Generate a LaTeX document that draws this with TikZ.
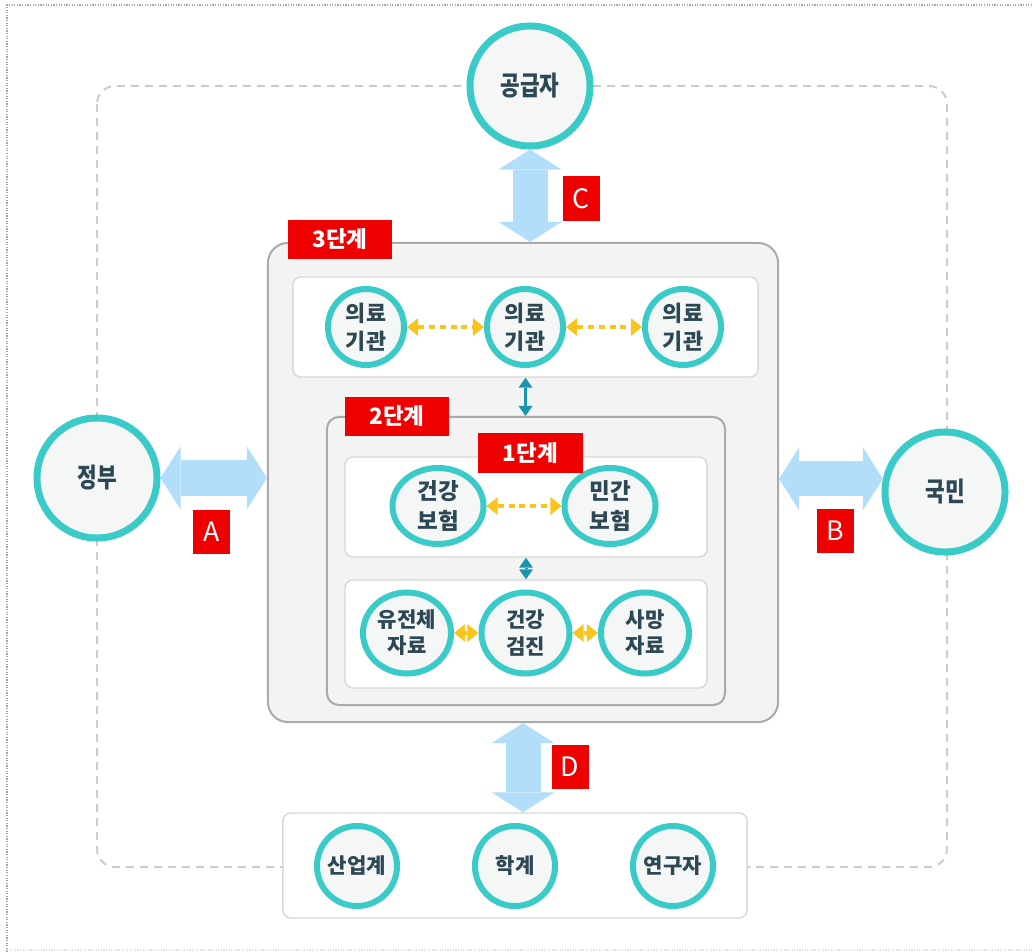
\documentclass[tikz,border=0pt]{standalone}
\usepackage{fontspec}
\setmainfont{Noto Sans CJK KR}
\newfontfamily\tallfont{Noto Sans CJK KR}[FakeStretch=0.8]
\usepackage{tikz}
\usetikzlibrary{arrows.meta,shapes.geometric}
\definecolor{ring}{RGB}{58,202,200}
\definecolor{orbfill}{RGB}{245,246,246}
\definecolor{ink}{RGB}{44,72,84}
\definecolor{tagred}{RGB}{238,0,0}
\definecolor{flowblue}{RGB}{178,222,250}
\definecolor{linkgold}{RGB}{249,196,30}
\definecolor{deepteal}{RGB}{24,150,175}
\definecolor{frame}{RGB}{170,170,170}
\definecolor{panelfill}{RGB}{243,243,243}
\definecolor{cardline}{RGB}{215,215,215}

\begin{document}
\begin{tikzpicture}[x=0.025cm, y=-0.025cm,
  orb/.style={circle, draw=ring, fill=orbfill, line width=0.15cm, inner sep=0pt, text=ink, align=center},
  bigorb/.style={orb, line width=0.175cm, minimum size=3cm, font=\tallfont\bfseries\fontsize{19}{22}\selectfont},
  oval/.style={orb, ellipse},
  panel/.style={draw=frame, fill=panelfill, line width=0.05cm, inner sep=0pt},
  card/.style={draw=cardline, fill=white, line width=0.035cm, rounded corners=0.2cm, inner sep=0pt},
  tag/.style={fill=tagred, text=white, inner sep=0pt, font=\bfseries\fontsize{16}{16}\selectfont},
  letter/.style={tag, minimum width=0.925cm, minimum height=1.1cm, font=\fontsize{19}{19}\selectfont},
  flow/.style={draw=flowblue, line width=0.875cm, >={Triangle[width=1.575cm,length=0.5cm,line width=0pt]}, <->},
  link/.style={draw=linkgold, line width=0.1cm, dash pattern=on 0.15cm off 0.12cm, >={Triangle[width=0.45cm,length=0.28cm,line width=0pt]}, <->},
  hop/.style={draw=deepteal, line width=0.075cm, >={Triangle[width=0.35cm,length=0.25cm,line width=0pt]}, <->}]
\useasboundingbox (0,0) rectangle (1032,952);
\draw[gray!70, line width=0.03cm, densely dotted] (1032,5) -- (7,5) -- (7,952);
\draw[gray!25, line width=0.03cm, densely dotted] (7,950) -- (1032,950);
\draw[gray!40, line width=0.05cm, dash pattern=on 0.2cm off 0.15cm, rounded corners=0.45cm] (97,86) rectangle (947,867);

% stages
\node[panel, rounded corners=0.5cm, minimum width=12.75cm, minimum height=11.975cm] (stage3) at (523,482.5) {};
\node[card, minimum width=11.625cm, minimum height=2.5cm] (row3) at (525.5,327) {};
\node[panel, rounded corners=0.3cm, minimum width=9.95cm, minimum height=7.2cm] (stage2) at (526,561) {};
\node[card, minimum width=9.05cm, minimum height=2.5cm] (row1) at (526,507) {};
\node[card, minimum width=9.05cm, minimum height=2.7cm] (row2) at (526,634) {};
\node[card, minimum width=11.6cm, minimum height=2.625cm] (field) at (515,865.5) {};

\node[bigorb] (supplier) at (530,86) {공급자};
\node[bigorb] (gov) at (97,478) {정부};
\node[bigorb] (people) at (945,492) {국민};

\node[orb, minimum size=1.9cm, font=\bfseries\fontsize{15.5}{20}\selectfont] (hosp1) at (366,327) {의료\\기관};
\node[orb, minimum size=1.9cm, font=\bfseries\fontsize{15.5}{20}\selectfont] (hosp2) at (525,327) {의료\\기관};
\node[orb, minimum size=1.9cm, font=\bfseries\fontsize{15.5}{20}\selectfont] (hosp3) at (683,327) {의료\\기관};
\node[oval, minimum width=2.275cm, minimum height=1.9cm, font=\bfseries\fontsize{16}{22}\selectfont] (insur) at (438,506) {건강\\보험};
\node[oval, minimum width=2.275cm, minimum height=1.9cm, font=\bfseries\fontsize{16}{22}\selectfont] (private) at (610,506) {민간\\보험};
\node[oval, minimum width=2.2cm, minimum height=2.025cm, font=\bfseries\fontsize{15}{18.5}\selectfont] (genome) at (407,633) {유전체\\자료};
\node[oval, minimum width=2.2cm, minimum height=2.025cm, font=\bfseries\fontsize{15}{18.5}\selectfont] (checkup) at (525.5,633) {건강\\검진};
\node[oval, minimum width=2.2cm, minimum height=2.025cm, font=\bfseries\fontsize{15}{18.5}\selectfont] (death) at (645,633) {사망\\자료};
\node[orb, minimum size=2cm, font=\bfseries\fontsize{15}{18}\selectfont] (industry) at (357,866) {산업계};
\node[orb, minimum size=2cm, font=\bfseries\fontsize{15}{18}\selectfont] (academia) at (515,866) {학계};
\node[orb, minimum size=2cm, font=\bfseries\fontsize{15}{18}\selectfont] (research) at (673,866) {연구자};

\node[tag, minimum width=2.6cm, minimum height=0.975cm] (tag3) at (340,239.5) {3단계};
\node[tag, minimum width=2.6cm, minimum height=0.975cm] (tag2) at (397,416.5) {2단계};
\node[tag, minimum width=2.625cm, minimum height=1cm] (tag1) at (530.5,453) {1단계};
\node[letter] (labA) at (211.5,532) {A};
\node[letter] (labB) at (835,531) {B};
\node[letter] (labC) at (581,198.5) {C};
\node[letter] (labD) at (570,767) {D};

\draw[flow] (supplier.south) -- (supplier.south |- stage3.north);
\draw[flow] (gov.east) -- (gov.east -| stage3.west);
\draw[flow] (people.168) -- (people.168 -| stage3.east);
\draw[flow] (stage3.south) -- (stage3.south |- field.north);

\draw[link] (hosp1) -- (hosp2);
\draw[link] (hosp2) -- (hosp3);
\draw[link] (insur) -- (private);
\draw[link] (genome) -- (checkup);
\draw[link] (checkup) -- (death);
\draw[hop] (row3.south) -- (row3.south |- stage2.north);
\draw[hop] (row1.south) -- (row2.north);
\end{tikzpicture}
\end{document}
